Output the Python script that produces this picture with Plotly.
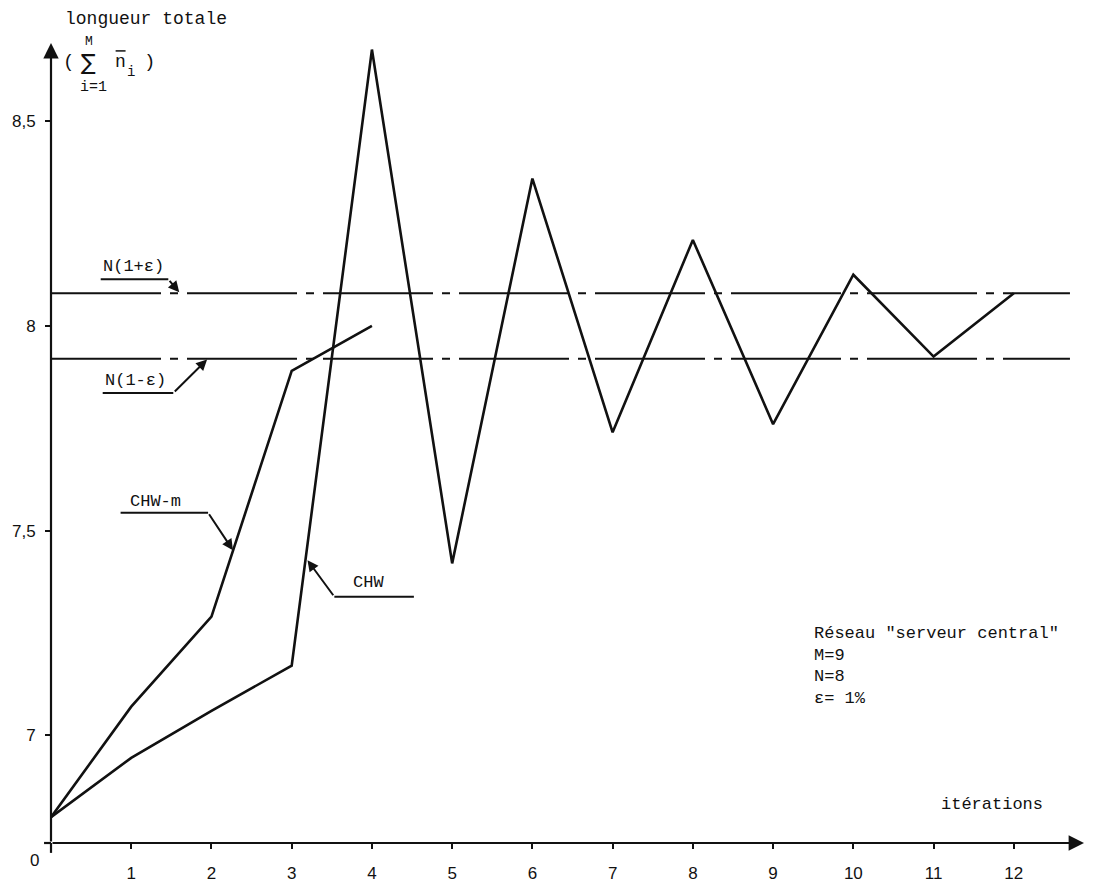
import plotly.graph_objects as go

# --- data -------------------------------------------------------------
iterations = list(range(13))
chw = [6.80, 6.945, 7.06, 7.17, 8.675, 7.42, 8.36, 7.74, 8.21, 7.76, 8.125, 7.925, 8.08]
chw_m_iterations = [0, 1, 2, 3, 4]
chw_m = [6.80, 7.07, 7.29, 7.89, 8.00]

N = 8
EPS = 0.01
band_hi = N * (1 + EPS)
band_lo = N * (1 - EPS)

x_tickvals = list(range(13))
x_ticktext = [""] + [str(i) for i in range(1, 13)]
y_tickvals = [7, 7.5, 8, 8.5]
y_ticktext = ["7", "7,5", "8", "8,5"]

# --- page geometry ----------------------------------------------------
W, H = 1109, 895
MARGIN = dict(l=45, r=25, t=43, b=43)
PLOT_W = W - MARGIN["l"] - MARGIN["r"]
PLOT_H = H - MARGIN["t"] - MARGIN["b"]
X_RANGE = [0, 12.875]
Y_RANGE = [6.737, 8.691]

TYPE = "Liberation Mono, Courier New, monospace"
NUM = "Liberation Sans, Arial, sans-serif"
INK = "#111111"


# page pixel -> data units (for arrows that point at the curves)
def dx(px):
    return X_RANGE[0] + (px - MARGIN["l"]) / PLOT_W * (X_RANGE[1] - X_RANGE[0])


def dy(py):
    return Y_RANGE[1] - (py - MARGIN["t"]) / PLOT_H * (Y_RANGE[1] - Y_RANGE[0])


# page pixel -> paper units (for labels, which may sit in the margins)
def fx(px):
    return (px - MARGIN["l"]) / PLOT_W


def fy(py):
    return 1 - (py - MARGIN["t"]) / PLOT_H


fig = go.Figure()

# tolerance band N(1±ε), dash-dot
band_end = 12.7
for level in (band_hi, band_lo):
    fig.add_trace(go.Scatter(
        x=[0, band_end], y=[level, level], mode="lines",
        line=dict(color=INK, width=2, dash="110px,9px,8px,9px"),
        hoverinfo="skip", showlegend=False,
    ))

fig.add_trace(go.Scatter(
    x=chw_m_iterations, y=chw_m, mode="lines",
    line=dict(color=INK, width=2.6), name="CHW-m", showlegend=False,
))
fig.add_trace(go.Scatter(
    x=iterations, y=chw, mode="lines",
    line=dict(color=INK, width=2.6), name="CHW", showlegend=False,
))

annotations = []
shapes = []


def text(px, py, s, size=17, family=TYPE, xanchor="center"):
    annotations.append(dict(
        x=fx(px), y=fy(py), xref="paper", yref="paper", text=s, showarrow=False,
        font=dict(family=family, size=size, color=INK),
        xanchor=xanchor, yanchor="middle",
    ))


def stroke(x0, y0, x1, y1, width=2):
    shapes.append(dict(
        type="line", xref="paper", yref="paper",
        x0=fx(x0), y0=fy(y0), x1=fx(x1), y1=fy(y1),
        line=dict(color=INK, width=width),
    ))


def leader(label, label_xy, underline, tip):
    text(label_xy[0], label_xy[1], label)
    (x0, y0), (x1, y1) = underline
    stroke(x0, y0, x1, y1)
    tail = underline[1] if abs(x1 - tip[0]) < abs(x0 - tip[0]) else underline[0]
    annotations.append(dict(
        x=dx(tip[0]), y=dy(tip[1]), ax=dx(tail[0]), ay=dy(tail[1]),
        xref="x", yref="y", axref="x", ayref="y", text="",
        showarrow=True, arrowhead=2, arrowsize=1.1, arrowwidth=2,
        arrowcolor=INK, standoff=0, startstandoff=0,
    ))


leader("N(1+ε)", (128, 269), ((95, 282), (163, 282)), (174, 295))
leader("N(1-ε)", (130, 384), ((97, 397), (168, 397)), (202, 363))
leader("CHW-m", (150, 507), ((115, 518), (203, 518)), (228, 556))
leader("CHW", (364, 589), ((330, 603), (410, 603)), (303, 566))

# axis arrows
annotations.append(dict(
    x=X_RANGE[1], y=Y_RANGE[0], ax=0, ay=Y_RANGE[0],
    xref="x", yref="y", axref="x", ayref="y", text="",
    showarrow=True, arrowhead=2, arrowsize=1.4, arrowwidth=2.2,
    arrowcolor=INK, standoff=0,
))
annotations.append(dict(
    x=0, y=Y_RANGE[1], ax=0, ay=Y_RANGE[0],
    xref="x", yref="y", axref="x", ayref="y", text="",
    showarrow=True, arrowhead=2, arrowsize=1.4, arrowwidth=2.2,
    arrowcolor=INK, standoff=0,
))
# short overshoot of both axes at the origin
stroke(38, H - MARGIN["b"], MARGIN["l"], H - MARGIN["b"], width=2.2)
stroke(MARGIN["l"], H - MARGIN["b"], MARGIN["l"], H - MARGIN["b"] + 10, width=2.2)

# axis titles and origin
text(141, 19, "longueur totale", size=18)
text(991, 813, "itérations", size=17)
text(28, 870, "0", size=17, family=NUM)

# y-axis quantity: ( Σ_{i=1}^{M} n̄_i )
text(63, 62, "(", size=19)
text(83, 41, "M", size=13)
text(83, 63, "∑", size=22, family="DejaVu Sans")
text(88, 88, "i=1", size=15)
stroke(110, 51, 120, 51, width=1.5)
text(115, 62, "n", size=18)
text(125, 72, "i", size=14)
text(144, 62, ")", size=19)

# network description
for i, line in enumerate(['Réseau "serveur central"', "M=9", "N=8", "ε= 1%"]):
    text(810, 640 + 22 * i, line, size=17, xanchor="left")

fig.update_layout(
    width=W, height=H, autosize=False,
    margin=dict(MARGIN, pad=0),
    paper_bgcolor="white", plot_bgcolor="white",
    showlegend=False,
    xaxis=dict(
        range=X_RANGE, showgrid=False, zeroline=False, showline=False,
        tickvals=x_tickvals, ticktext=x_ticktext,
        ticks="outside", ticklen=5, tickwidth=2, tickcolor=INK,
        ticklabelstandoff=10,
        tickfont=dict(family=NUM, size=17, color=INK),
    ),
    yaxis=dict(
        range=Y_RANGE, showgrid=False, zeroline=False, showline=False,
        tickvals=y_tickvals, ticktext=y_ticktext,
        ticks="outside", ticklen=5, tickwidth=2, tickcolor=INK,
        ticklabelstandoff=6,
        tickfont=dict(family=NUM, size=17, color=INK),
    ),
    annotations=annotations,
    shapes=shapes,
)

fig.write_html("out.html")
